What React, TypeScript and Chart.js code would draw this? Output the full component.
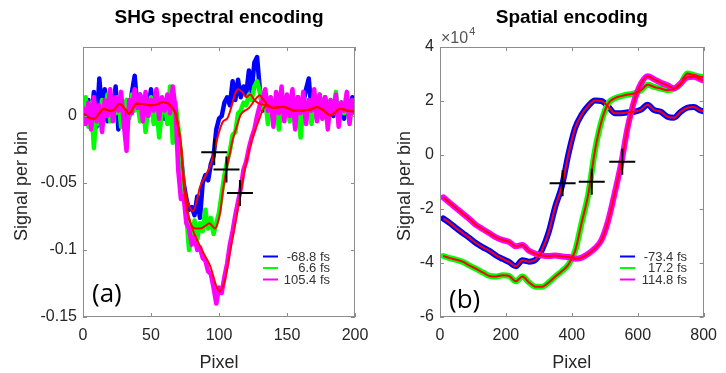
import React, { useEffect, useRef } from "react";
import { Chart, registerables } from "chart.js";
Chart.register(...registerables);

const BLUE = "#0000ff";
const GREEN = "#00ff00";
const MAGENTA = "#ff00ff";
const RED = "#ff0000";
const FONT = "'Liberation Sans', Arial, sans-serif";

// ================= Panel (a): SHG spectral encoding =================
const pixelA = [
  0, 2, 4, 6, 8, 10, 12, 14, 16, 18, 20, 22, 24, 26, 28, 30, 32, 34, 36, 38,
  40, 42, 44, 46, 48, 50, 52, 54, 56, 58, 60, 62, 64, 66, 68, 70, 72, 74, 76, 78,
  80, 82, 84, 86, 88, 90, 92, 94, 96, 98, 100, 102, 104, 106, 108, 110, 112, 114, 116, 118,
  120, 122, 124, 126, 128, 130, 132, 134, 136, 138, 140, 142, 144, 146, 148, 150, 152, 154, 156, 158,
  160, 162, 164, 166, 168, 170, 172, 174, 176, 178, 180, 182, 184, 186, 188, 190, 192, 194, 196, 198, 200,
];
const rawBlueA = [
  0.010, -0.004, 0.012, -0.006, 0.018, -0.008, 0.028, 0.004, 0.020, -0.004,
  0.016, 0.002, 0.022, -0.010, 0.012, -0.006, 0.010, 0.000, 0.018, 0.030,
  0.006, 0.016, -0.002, 0.012, 0.004, 0.020, -0.004, 0.014, 0.002, 0.012,
  -0.002, 0.010, 0.004, 0.012, 0.000, -0.012, -0.030, -0.050, -0.062, -0.070,
  -0.068, -0.074, -0.060, -0.076, -0.050, -0.044, -0.048, -0.036, -0.030, -0.010,
  -0.002, 0.000, 0.010, 0.014, 0.008, 0.026, 0.012, 0.027, 0.014, 0.022,
  0.016, 0.034, 0.018, 0.040, 0.044, 0.020, 0.004, 0.016, 0.006, 0.012,
  0.000, 0.010, -0.004, 0.008, 0.002, 0.012, -0.002, 0.008, 0.004, 0.014,
  0.002, 0.010, 0.020, 0.028, 0.004, 0.012, -0.002, 0.010, 0.004, 0.014,
  -0.004, 0.008, 0.000, 0.012, 0.004, 0.010, -0.002, 0.012, 0.006, 0.014, 0.008,
];
const rawGreenA = [
  0.004, 0.014, -0.008, 0.010, -0.024, 0.006, -0.006, 0.012, 0.000, 0.016,
  -0.004, 0.010, 0.002, 0.014, -0.008, 0.008, 0.012, -0.002, 0.016, 0.004,
  0.010, -0.004, 0.012, -0.012, 0.006, 0.014, -0.006, 0.008, -0.016, 0.004,
  0.012, -0.006, 0.022, -0.020, 0.010, -0.008, -0.028, -0.055, -0.075, -0.100,
  -0.090, -0.078, -0.092, -0.080, -0.086, -0.070, -0.084, -0.076, -0.088, -0.080,
  -0.072, -0.058, -0.044, -0.034, -0.026, -0.014, -0.012, 0.002, 0.004, 0.010,
  0.008, 0.016, 0.012, 0.022, 0.026, 0.018, 0.006, 0.012, -0.006, 0.014,
  0.004, 0.010, -0.010, 0.008, 0.002, 0.012, -0.004, 0.010, -0.008, 0.006,
  -0.016, 0.008, 0.002, 0.012, -0.006, 0.010, 0.004, 0.016, -0.002, 0.008,
  0.000, 0.012, 0.004, 0.018, -0.004, 0.010, 0.002, 0.012, -0.004, 0.008, 0.004,
];
const rawMagentaA = [
  0.006, -0.006, 0.010, -0.010, 0.014, -0.004, 0.008, -0.012, 0.012, 0.000,
  0.020, -0.004, 0.014, 0.004, 0.018, -0.006, -0.026, 0.012, 0.002, 0.020,
  0.006, 0.016, -0.004, 0.018, 0.000, 0.012, 0.004, 0.020, -0.002, 0.014,
  0.004, 0.016, 0.002, 0.022, 0.006, -0.040, -0.062, -0.060, -0.080, -0.084,
  -0.096, -0.090, -0.100, -0.098, -0.106, -0.108, -0.116, -0.118, -0.128, -0.140,
  -0.128, -0.132, -0.120, -0.110, -0.096, -0.086, -0.074, -0.064, -0.054, -0.040,
  -0.034, -0.024, -0.016, -0.010, 0.000, 0.008, 0.012, 0.020, 0.004, 0.014,
  -0.008, 0.018, 0.002, 0.022, -0.004, 0.016, 0.000, 0.020, -0.010, 0.014,
  0.002, 0.018, -0.006, 0.012, 0.004, 0.020, -0.004, 0.016, -0.002, 0.014,
  -0.010, 0.012, 0.002, 0.016, -0.008, 0.010, 0.004, 0.018, -0.006, 0.012, 0.002,
];

// smoothed (red) curves: shared head and tail, individual middle parts
const smoothHeadX = [0, 4, 8, 12, 15, 19, 22, 27, 31, 34, 39, 44, 49, 54, 59, 63, 66, 68, 70, 72];
const smoothHeadY = [0.002, -0.001, -0.002, 0.002, 0.0055, 0.004, 0.0042, 0.0092, 0.005, 0.0017, 0.0092, 0.009, 0.008, 0.0085, 0.0104, 0.009, 0.0055, 0.002, -0.008, -0.022];
const smoothTailX = [140, 147, 155, 162, 168, 172, 177, 182, 189, 195, 200];
const smoothTailY = [0.006, 0.007, 0.0042, 0.0042, 0.005, 0.0067, 0.004, 0.0005, 0.0055, 0.004, 0.0035];
const smoothBlueX = [74, 76, 78, 81, 84, 86, 90, 94, 96, 98, 100, 103, 106, 108, 110, 112, 114, 117, 120, 123, 126, 130, 135];
const smoothBlueY = [-0.045, -0.06, -0.067, -0.071, -0.062, -0.053, -0.045, -0.036, -0.029, -0.02, -0.012, -0.004, -0.002, 0.003, 0.01, 0.017, 0.02, 0.018, 0.014, 0.016, 0.012, 0.009, 0.008];
const smoothGreenX = [74, 76, 78, 80, 83, 86, 90, 93, 95, 97, 99, 101, 103, 105.5, 108, 110, 113, 116, 119, 122, 125, 128, 130, 132, 135];
const smoothGreenY = [-0.048, -0.066, -0.076, -0.082, -0.084, -0.084, -0.082, -0.08, -0.082, -0.084, -0.08, -0.071, -0.055, -0.04, -0.028, -0.018, -0.008, 0.001, 0.004, 0.006, 0.01, 0.014, 0.0155, 0.013, 0.009];
const smoothMagentaX = [74, 76, 80, 86, 90, 93.5, 98, 100, 102, 104.5, 108, 112, 115.5, 118, 120.5, 123, 126, 129, 132, 135];
const smoothMagentaY = [-0.05, -0.068, -0.083, -0.097, -0.105, -0.112, -0.127, -0.131, -0.129, -0.122, -0.102, -0.08, -0.06, -0.045, -0.033, -0.022, -0.012, -0.004, 0.004, 0.008];

const crossAX = [96.5, 105.5, 115.4];
const crossAY = [-0.027, -0.04, -0.0575];
const legendA = ["-68.8 fs", "6.6 fs", "105.4 fs"];
const xTicksA = [0, 50, 100, 150, 200];
const yTicksA = [-0.15, -0.1, -0.05, 0];

// ================= Panel (b): Spatial encoding =================
const pixelB = [10, 30, 50, 70, 90, 110, 130, 150, 170, 190, 210, 230, 250, 270, 290, 310, 330, 350, 370, 390, 410, 430, 450, 470, 490, 510, 530, 550, 570, 590, 610, 630, 650, 670, 690, 710, 730, 750, 770, 790, 800];
const blueB = [-23500, -25200, -27200, -29000, -30800, -32700, -34200, -35500, -37200, -38500, -39700, -41200, -39000, -39500, -38800, -35000, -28500, -19000, -11500, 500, 10000, 15000, 18200, 20200, 20000, 18000, 15500, 15500, 15800, 16000, 16800, 18600, 16600, 16000, 14200, 13800, 16000, 17500, 17800, 16500, 16200];
const greenB = [-37400, -38200, -38800, -39600, -41000, -42200, -43500, -44800, -45000, -44500, -44800, -46800, -45000, -47200, -48800, -48800, -47200, -45000, -43000, -40500, -35500, -25000, -14500, 1500, 12500, 19000, 21000, 21800, 22400, 22800, 24000, 26000, 25200, 24600, 24000, 24500, 26200, 30200, 29600, 29000, 28800];
const magentaB = [-15700, -17800, -19800, -21800, -23800, -26000, -27500, -29000, -30500, -31500, -32200, -33800, -33300, -35500, -36600, -37200, -37400, -37200, -37600, -37800, -38400, -38000, -36600, -34600, -31500, -24500, -14200, -3000, 10500, 20300, 26500, 29200, 28000, 26800, 25800, 24700, 26500, 28800, 29000, 28000, 27600];
const crossBX = [372, 460.5, 553];
const crossBY = [-10500, -9900, -2500];
const legendB = ["-73.4 fs", "17.2 fs", "114.8 fs"];
const xTicksB = [0, 200, 400, 600, 800];
const yTicksB = [-60000, -40000, -20000, 0, 20000, 40000];

const pts = (xs: number[], ys: number[]) => xs.map((x, i) => ({ x, y: ys[i] }));

type Panel = {
  title: string;
  letter: string;
  legend: string[];
  xMin: number; xMax: number; yMin: number; yMax: number;
  xTicks: number[]; yTicks: number[];
  yFmt: (v: number) => string;
  pad: { left: number; right: number; top: number; bottom: number };
  ylabelDx: number;
  letterDy: number;
  exponent: boolean;
  datasets: any[];
};

function thick(data: any[], color: string, width: number, order: number) {
  return {
    data, borderColor: color, borderWidth: width, pointRadius: 0,
    borderJoinStyle: "round", borderCapStyle: "round", order, tension: 0,
  };
}
function smooth(data: any[], order: number) {
  return {
    data, borderColor: RED, borderWidth: 2, pointRadius: 0,
    cubicInterpolationMode: "monotone", order,
  };
}
function crosses(data: any[]) {
  return {
    data, showLine: false, pointStyle: "cross", pointRadius: 13, pointHoverRadius: 13,
    borderColor: "#000", backgroundColor: "#000", pointBorderWidth: 2, borderWidth: 2, order: 0,
  };
}

const decor = {
  id: "decor",
  afterDraw(chart: any, _args: any, opts: any) {
    const p: Panel = opts.panel;
    const { ctx, chartArea: a, scales } = chart;
    const xs = scales.x, ys = scales.y;
    ctx.save();
    // box
    ctx.strokeStyle = "#8c8c8c";
    ctx.lineWidth = 1;
    ctx.strokeRect(Math.round(a.left) + 0.5, Math.round(a.top) + 0.5, Math.round(a.width) - 1, Math.round(a.height) - 1);
    // inner ticks on all sides
    ctx.beginPath();
    for (const v of p.xTicks) {
      const px = Math.round(xs.getPixelForValue(v)) + 0.5;
      ctx.moveTo(px, a.bottom); ctx.lineTo(px, a.bottom - 4);
      ctx.moveTo(px, a.top); ctx.lineTo(px, a.top + 4);
    }
    for (const v of p.yTicks) {
      const py = Math.round(ys.getPixelForValue(v)) + 0.5;
      ctx.moveTo(a.left, py); ctx.lineTo(a.left + 4, py);
      ctx.moveTo(a.right, py); ctx.lineTo(a.right - 4, py);
    }
    ctx.stroke();
    const cx = (a.left + a.right) / 2;
    // title
    ctx.fillStyle = "#000";
    ctx.textAlign = "center";
    ctx.textBaseline = "alphabetic";
    ctx.font = `bold 19px ${FONT}`;
    ctx.fillText(p.title, cx, 23);
    // x label
    ctx.fillStyle = "#262626";
    ctx.font = `18px ${FONT}`;
    ctx.fillText("Pixel", cx, 368);
    // y label
    ctx.save();
    ctx.translate(a.left + p.ylabelDx, 186);
    ctx.rotate(-Math.PI / 2);
    ctx.textBaseline = "middle";
    ctx.fillText("Signal per bin", 0, 0);
    ctx.restore();
    // panel letter
    ctx.fillStyle = "#000";
    ctx.textAlign = "left";
    ctx.textBaseline = "middle";
    ctx.font = `26px 'Open Sans', ${FONT}`;
    ctx.fillText(p.letter, a.left + 9, a.top + p.letterDy);
    // legend
    const cols = [BLUE, GREEN, MAGENTA];
    ctx.font = `13px ${FONT}`;
    ctx.textAlign = "right";
    for (let i = 0; i < 3; i++) {
      const y = a.top + 209.5 + i * 11.5;
      ctx.strokeStyle = cols[i];
      ctx.lineWidth = 2;
      ctx.beginPath();
      ctx.moveTo(a.left + 180, y); ctx.lineTo(a.left + 195, y);
      ctx.stroke();
      ctx.fillStyle = "#333";
      ctx.fillText(p.legend[i], a.left + 247, y + 0.5);
    }
    // exponent
    if (p.exponent) {
      ctx.fillStyle = "#555";
      ctx.textAlign = "left";
      ctx.textBaseline = "alphabetic";
      ctx.font = `16px ${FONT}`;
      const base = "\u00d710";
      ctx.fillText(base, a.left + 1, 43);
      const w = ctx.measureText(base).width;
      ctx.font = `11px ${FONT}`;
      ctx.fillText("4", a.left + 1 + w + 1, 35);
    }
    ctx.restore();
  },
};

function makeConfig(p: Panel): any {
  return {
    type: "line",
    data: { datasets: p.datasets },
    plugins: [decor],
    options: {
      responsive: false,
      animation: false,
      events: [],
      layout: { padding: p.pad },
      plugins: { legend: { display: false }, tooltip: { enabled: false }, decor: { panel: p } },
      scales: {
        x: {
          type: "linear", min: p.xMin, max: p.xMax,
          grid: { display: false, drawTicks: false },
          border: { display: false },
          afterBuildTicks: (s: any) => { s.ticks = p.xTicks.map((v) => ({ value: v })); },
          afterFit: (s: any) => { s.height = 30; },
          ticks: { color: "#262626", font: { family: FONT, size: 16 }, padding: 9, maxRotation: 0, autoSkip: false },
        },
        y: {
          type: "linear", min: p.yMin, max: p.yMax,
          grid: { display: false, drawTicks: false },
          border: { display: false },
          afterBuildTicks: (s: any) => { s.ticks = p.yTicks.map((v) => ({ value: v })); },
          afterFit: (s: any) => { s.width = 60; },
          ticks: { color: "#262626", font: { family: FONT, size: 16 }, padding: 6, autoSkip: false, callback: (v: number) => p.yFmt(v) },
        },
      },
    },
  };
}

const panelA: Panel = {
  title: "SHG spectral encoding",
  letter: "(a)",
  legend: legendA,
  xMin: 0, xMax: 200, yMin: -0.15, yMax: 0.0515,
  xTicks: xTicksA, yTicks: yTicksA,
  yFmt: (v) => String(v),
  pad: { left: 23, right: 45, top: 47, bottom: 26 },
  ylabelDx: -61,
  letterDy: 248,
  exponent: false,
  datasets: [
    crosses(pts(crossAX, crossAY)),
    smooth(pts([...smoothHeadX, ...smoothBlueX, ...smoothTailX], [...smoothHeadY, ...smoothBlueY, ...smoothTailY]), 1),
    smooth(pts([...smoothHeadX, ...smoothGreenX, ...smoothTailX], [...smoothHeadY, ...smoothGreenY, ...smoothTailY]), 1),
    smooth(pts([...smoothHeadX, ...smoothMagentaX, ...smoothTailX], [...smoothHeadY, ...smoothMagentaY, ...smoothTailY]), 1),
    thick(pts(pixelA, rawMagentaA), MAGENTA, 4.5, 2),
    thick(pts(pixelA, rawGreenA), GREEN, 4.5, 3),
    thick(pts(pixelA, rawBlueA), BLUE, 4.5, 4),
  ],
};

const panelB: Panel = {
  title: "Spatial encoding",
  letter: "(b)",
  legend: legendB,
  xMin: 0, xMax: 800, yMin: -60000, yMax: 40000,
  xTicks: xTicksB, yTicks: yTicksB,
  yFmt: (v) => String(v / 10000),
  pad: { left: 50, right: 15, top: 47, bottom: 26 },
  ylabelDx: -35,
  letterDy: 254,
  exponent: true,
  datasets: [
    crosses(pts(crossBX, crossBY)),
    smooth(pts(pixelB, blueB), 1),
    smooth(pts(pixelB, greenB), 1),
    smooth(pts(pixelB, magentaB), 1),
    { ...thick(pts(pixelB, magentaB), MAGENTA, 6, 2), cubicInterpolationMode: "monotone" },
    { ...thick(pts(pixelB, greenB), GREEN, 6, 3), cubicInterpolationMode: "monotone" },
    { ...thick(pts(pixelB, blueB), BLUE, 6, 4), cubicInterpolationMode: "monotone" },
  ],
};

function PanelChart({ panel, left, width }: { panel: Panel; left: number; width: number }) {
  const ref = useRef<HTMLCanvasElement | null>(null);
  useEffect(() => {
    if (!ref.current) return;
    const chart = new Chart(ref.current, makeConfig(panel));
    return () => chart.destroy();
  }, [panel]);
  return (
    <canvas ref={ref} width={width} height={373}
      style={{ position: "absolute", left, top: 0, width, height: 373 }} />
  );
}

export default function App() {
  return (
    <div style={{ position: "absolute", left: 0, top: 0, width: 726, height: 373, background: "#fff", overflow: "hidden" }}>
      <PanelChart panel={panelA} left={0} width={400} />
      <PanelChart panel={panelB} left={330} width={396} />
    </div>
  );
}
